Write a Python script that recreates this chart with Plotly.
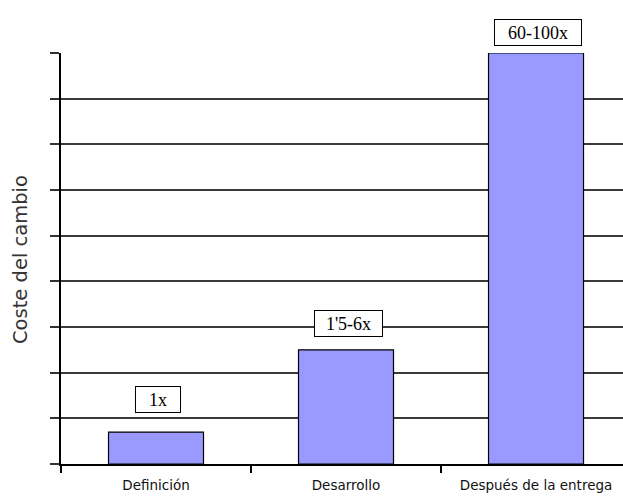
import plotly.graph_objects as go

categories = ["Definición", "Desarrollo", "Después de la entrega"]
values = [0.7, 2.5, 9.0]
labels = ["1x", "1'5-6x", "60-100x"]
y_title = "Coste del cambio"

W, H = 623, 497
ml, mt, mb = 61, 53, 33
label_shift = [33, 26, 21]
label_box_w = [42, 65, 84]

fig = go.Figure()
fig.add_trace(go.Bar(
    x=categories, y=values, width=0.5,
    marker=dict(color="#9999FF", line=dict(color="black", width=1.2)),
    showlegend=False, hoverinfo="skip",
))

for c, v, t, s, bw in zip(categories, values, labels, label_shift, label_box_w):
    fig.add_annotation(
        x=c, y=v, xref="x", yref="y", text=t, showarrow=False,
        yanchor="middle", yshift=s, xshift=2, width=bw, height=23,
        font=dict(family="Liberation Serif", size=18, color="black"),
        bgcolor="white", bordercolor="black", borderwidth=1, borderpad=1,
    )

fig.add_annotation(
    xref="paper", yref="paper", x=(20 - ml) / (W - ml), y=(464 - 260) / 411,
    text=y_title, textangle=-90, showarrow=False,
    xanchor="center", yanchor="middle",
    font=dict(family="DejaVu Sans", size=19.5, color="#333"),
)

fig.update_layout(
    width=W, height=H,
    margin=dict(l=ml, r=0, t=mt, b=mb),
    paper_bgcolor="white", plot_bgcolor="white",
    font=dict(family="DejaVu Sans", size=13, color="black"),
    xaxis=dict(
        type="category", range=[-0.5, 2.5 - 8 / 189.5],
        tickson="boundaries", ticks="outside", ticklen=7, tickcolor="black", tickwidth=1.5,
        ticklabelstandoff=8,
        showline=True, linecolor="black", linewidth=1.5,
        showgrid=False, automargin=False,
        tickfont=dict(family="DejaVu Sans", size=13.5, color="#111"),
    ),
    yaxis=dict(
        range=[0, 9], dtick=1, tick0=0,
        showticklabels=False, ticks="outside", ticklen=9, tickcolor="#333", tickwidth=1.5,
        showline=True, linecolor="black", linewidth=1.5,
        showgrid=True, gridcolor="#3a3a3a", gridwidth=1.5,
        zeroline=False, automargin=False,
    ),
    bargap=0.5,
)

fig.write_html("out.html")
